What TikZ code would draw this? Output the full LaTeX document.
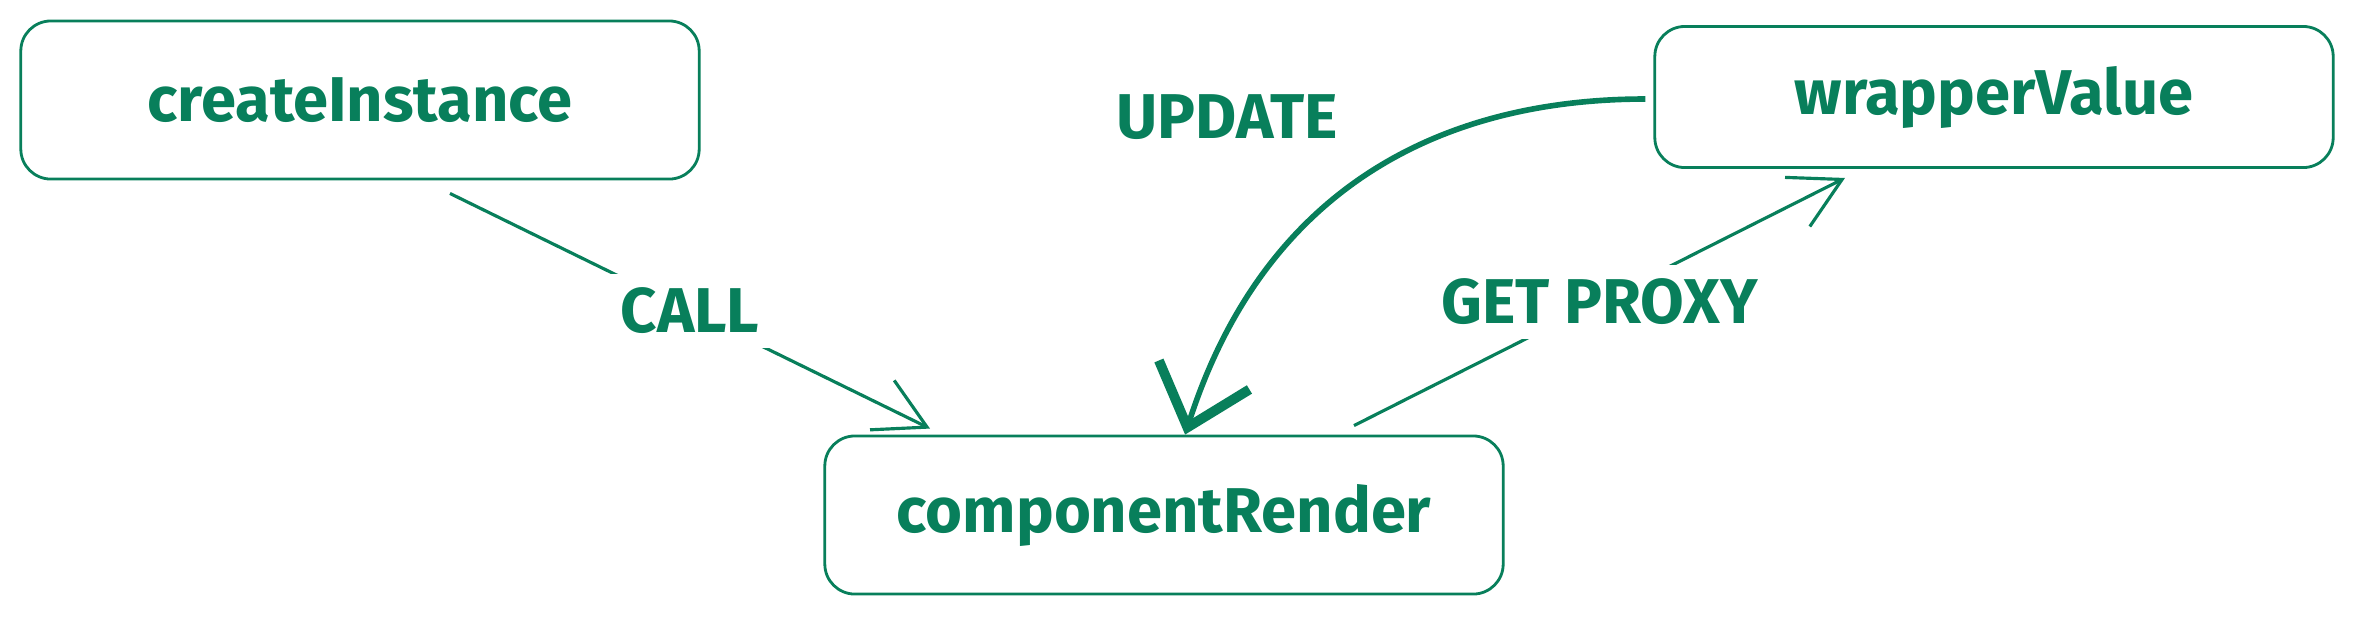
\documentclass[tikz,border=0pt]{standalone}
\usepackage{fontspec}
\setmainfont{Fira Sans}
\usetikzlibrary{arrows.meta,calc}
\definecolor{sketchgreen}{HTML}{087F5B}
\tikzset{
	sketchbox/.style={draw=sketchgreen, line width=0.8pt, rounded corners=0.3cm,
		minimum width=6.78cm, minimum height=1.58cm, text=sketchgreen,
		font=\fontsize{18}{21}\selectfont\bfseries},
	edgelabel/.style={text=sketchgreen, fill=white, inner sep=4pt,
		font=\fontsize{18}{21}\selectfont\bfseries},
	thinarrow/.style={draw=sketchgreen, line width=0.9pt,
		-{Straight Barb[length=0.5cm,width=0.55cm]}},
	thickarrow/.style={draw=sketchgreen, line width=1.6pt,
		-{Straight Barb[length=0.55cm,width=0.95cm,line width=2.8pt]}}
}

\begin{document}
\begin{tikzpicture}[x=0.01cm, y=-0.01cm]
			%%%%% START %%%%%
			
			\useasboundingbox (0, 0) rectangle (2366, 617);
			
			\node[sketchbox] (create) at (360, 100) {createInstance};
			\node[sketchbox, minimum height=1.41cm] (wrapper) at (1994, 97) {wrapperValue};
			\node[sketchbox] (render) at (1164, 515) {componentRender};
			
			\draw[thinarrow] ([shift={(90, 13)}]create.south) -- node[edgelabel] (call) {CALL} ([shift={(-234, -6)}]render.north);
			
			\draw[thinarrow] ([shift={(190, -9)}]render.north) -- node[edgelabel] (proxy) {GET PROXY} ([shift={(-149, 9)}]wrapper.south);
			
			\draw[thickarrow] ([shift={(-8, 2)}]wrapper.west) .. controls +(-200, 0) and +(80, -250) .. ([xshift=6]render.north);
			\node[edgelabel] (update) at (1227, 117) {UPDATE};
			
			%%%%% END %%%%%
\end{tikzpicture}
\end{document}
